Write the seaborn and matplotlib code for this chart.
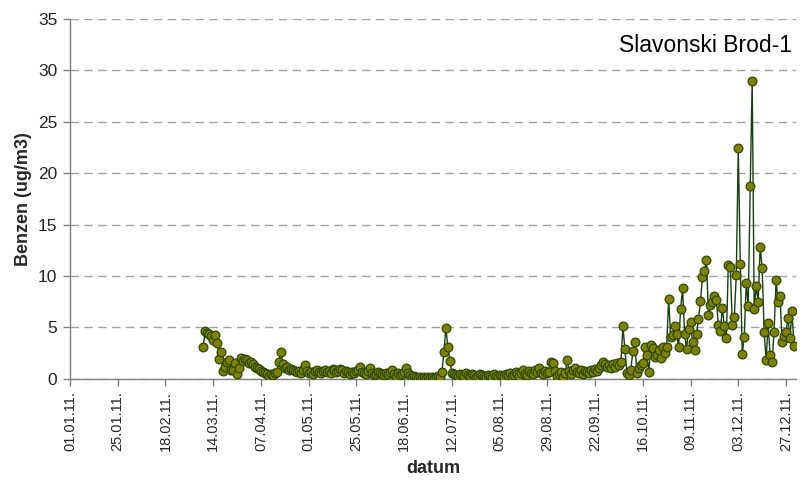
import numpy as np
import pandas as pd
import matplotlib
matplotlib.use("Agg")
import matplotlib.pyplot as plt
import matplotlib.dates as mdates
import seaborn as sns

# Daily benzene concentration (ug/m3), Slavonski Brod-1, 2011
start_date = "2011-03-09"
mar = [3.1, 4.7, 4.5, 4.4, 4.2, 3.8, 4.3, 3.5, 1.9, 2.6, 0.8, 1.2, 1.6, 1.8, 0.9, 0.9,
       1.5, 0.5, 1.1, 2.0, 1.7, 1.9, 1.8]
apr = [1.5, 1.6, 1.4, 1.2, 1.1, 1.0, 0.8, 0.7, 0.6, 0.5, 0.3, 0.5, 0.4, 0.6, 0.7, 1.6,
       2.6, 1.4, 1.1, 1.2, 0.9, 1.0, 0.9, 0.8, 0.7, 0.8, 0.6, 0.9, 1.3, 0.8]
may = [0.6, 0.7, 0.5, 0.8, 0.9, 0.7, 0.6, 0.8, 0.9, 0.7, 0.8, 0.6, 1.0, 0.9, 0.7, 0.8,
       1.0, 0.9, 0.6, 0.8, 0.7, 0.5, 0.7, 0.6, 0.8, 0.9, 1.2, 0.7, 0.6, 0.5, 0.8]
jun = [1.1, 0.6, 0.4, 0.5, 0.7, 0.6, 0.5, 0.4, 0.6, 0.5, 0.7, 0.9, 0.5, 0.3, 0.6, 0.4,
       0.5, 0.7, 1.1, 0.6, 0.4, 0.2, 0.3, 0.2, 0.1, 0.2, 0.1, 0.2, 0.1, 0.2]
jul = [0.1, 0.2, 0.1, 0.2, 0.3, 0.2, 0.7, 2.6, 4.9, 3.1, 1.7, 0.6, 0.5, 0.4, 0.3, 0.5,
       0.4, 0.3, 0.6, 0.4, 0.3, 0.5, 0.4, 0.2, 0.3, 0.5, 0.4, 0.3, 0.2, 0.4, 0.3]
aug = [0.2, 0.5, 0.3, 0.2, 0.4, 0.3, 0.2, 0.5, 0.4, 0.6, 0.3, 0.4, 0.7, 0.5, 0.3, 0.6,
       0.9, 0.5, 0.4, 0.8, 0.6, 0.5, 0.9, 0.7, 1.1, 0.6, 0.5, 0.8, 0.6, 0.7, 1.6]
sep = [1.5, 0.8, 0.3, 0.5, 0.7, 0.2, 0.6, 1.8, 0.8, 0.5, 0.9, 1.1, 0.7, 0.6, 0.9, 0.5,
       0.8, 0.7, 0.6, 0.9, 0.7, 1.0, 0.8, 1.1, 1.3, 1.6, 1.4, 1.2, 1.3, 1.1]
oct_ = [1.4, 1.2, 1.5, 1.3, 1.6, 5.1, 2.9, 0.6, 0.4, 0.9, 2.7, 3.6, 0.6, 1.1, 1.3, 1.5,
        3.1, 2.3, 0.7, 3.3, 3.0, 2.1, 2.3, 2.8, 2.0, 3.1, 2.5, 3.1, 7.8, 4.1, 4.3]
nov = [5.1, 4.4, 3.1, 6.8, 8.8, 4.4, 2.9, 4.8, 5.5, 3.6, 2.8, 4.4, 5.8, 7.6, 9.9, 10.5,
       11.6, 6.2, 7.2, 7.5, 8.1, 7.7, 5.2, 4.7, 6.9, 5.1, 4.0, 11.1, 10.9, 5.2]
dec = [6.0, 10.1, 22.4, 11.2, 2.4, 4.1, 9.3, 7.1, 18.7, 29.0, 6.8, 9.0, 7.5, 12.8, 10.8,
       4.6, 1.8, 5.4, 2.3, 1.6, 4.6, 9.6, 7.5, 8.1, 3.6, 4.2, 4.6, 5.9, 4.0, 6.6, 3.2]

values = mar + apr + may + jun + jul + aug + sep + oct_ + nov + dec
dates = pd.date_range(start_date, periods=len(values), freq="D")
df = pd.DataFrame({"datum": dates, "benzen": values})

tick_dates = pd.date_range("2011-01-01", periods=16, freq="24D")

sns.set_style("white")
plt.rcParams["font.family"] = ["Liberation Sans", "DejaVu Sans"]

fig = plt.figure(figsize=(8.04, 4.82), dpi=100)
ax = fig.add_axes([0.087, 0.214, 0.903, 0.747])

sns.lineplot(data=df, x="datum", y="benzen", ax=ax, sort=False,
             color="#16400e", linewidth=1.0, marker="o", markersize=6.3,
             markerfacecolor="#808000", markeredgecolor="#2c4a00",
             markeredgewidth=0.9, zorder=3)

ax.set_xlim(pd.Timestamp("2011-01-01"), pd.Timestamp("2012-01-01"))
ax.set_ylim(0, 35)
ax.set_yticks(range(0, 36, 5))
ax.set_xticks(tick_dates)
ax.xaxis.set_major_formatter(mdates.DateFormatter("%d.%m.%y."))
plt.setp(ax.get_xticklabels(), rotation=90)

ax.yaxis.grid(True, color="#a0a0a0", linestyle=(0, (6, 4)), linewidth=1.0)
ax.xaxis.grid(False)
for s in ["top", "right"]:
    ax.spines[s].set_visible(False)
for s in ["left", "bottom"]:
    ax.spines[s].set_color("#808080")
    ax.spines[s].set_linewidth(1.0)

ax.tick_params(axis="y", which="major", direction="out", length=5, width=1,
               color="#808080", labelsize=12.5, pad=4)
ax.tick_params(axis="x", which="major", direction="out", length=5, width=1,
               color="#808080", labelsize=10.5, pad=4)
ax.tick_params(left=True, bottom=True)

ax.set_xlabel("datum", fontsize=13, fontweight="bold", labelpad=6)
ax.set_ylabel("Benzen (ug/m3)", fontsize=13, fontweight="bold", labelpad=4)

ax.text(0.995, 0.925, "Slavonski Brod-1", transform=ax.transAxes,
        ha="right", va="center", fontsize=16.5, color="black")

fig.savefig("out.png", dpi=100)
